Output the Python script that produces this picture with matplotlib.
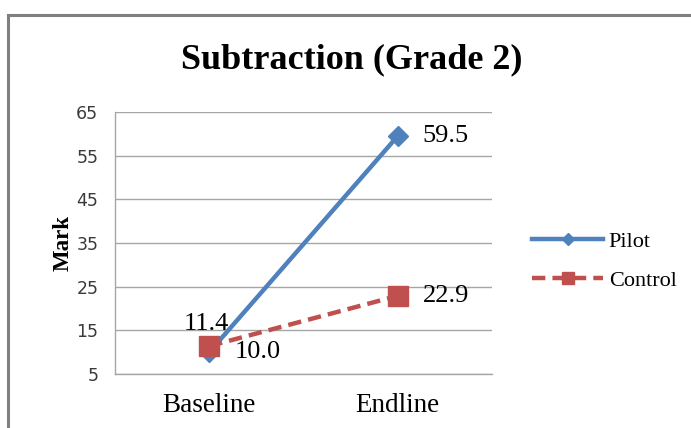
import matplotlib
matplotlib.use("Agg")
import matplotlib.pyplot as plt
from matplotlib.lines import Line2D

categories = ["Baseline", "Endline"]
pilot = [10.0, 59.5]
control = [11.4, 22.9]
yticks = [5, 15, 25, 35, 45, 55, 65]

W, H = 691, 428
fig = plt.figure(figsize=(W / 100, H / 100), dpi=100)
serif = "Liberation Serif"

# outer chart border (left and top visible)
fig.add_artist(Line2D([8 / W, 8 / W], [0, 1 - 15 / H], transform=fig.transFigure,
                      color="#808080", lw=2.2))
fig.add_artist(Line2D([8 / W, 1], [1 - 15 / H, 1 - 15 / H], transform=fig.transFigure,
                      color="#808080", lw=2.2))

left, right, top, bottom = 115, 492, 112, 374
ax = fig.add_axes([left / W, 1 - bottom / H, (right - left) / W, (bottom - top) / H])

x = [0, 1]
blue = "#4F81BD"
red = "#C0504D"
ax.plot(x, pilot, color=blue, lw=3.2, marker="D", ms=10, zorder=3, label="Pilot")
ax.plot(x, control, color=red, lw=3.2, ls=(0, (3, 1.6)), marker="s", ms=15, zorder=4,
        label="Control")

ax.set_xlim(-0.5, 1.5)
ax.set_ylim(5, 65)
ax.set_yticks(yticks)
ax.set_yticklabels([str(v) for v in yticks], fontfamily="DejaVu Sans", fontsize=12.5,
                   color="#3a3a3a")
ax.set_xticks(x)
ax.set_xticklabels(categories, fontfamily=serif, fontsize=19.5)
ax.tick_params(axis="both", length=0)
ax.tick_params(axis="y", pad=12)
ax.tick_params(axis="x", pad=14)
ax.yaxis.grid(True, color="#A6A6A6", lw=1)
ax.set_axisbelow(True)
for s in ["top", "right"]:
    ax.spines[s].set_visible(False)
for s in ["left", "bottom"]:
    ax.spines[s].set_color("#A6A6A6")
    ax.spines[s].set_linewidth(1)

ax.set_ylabel("Mark", fontfamily=serif, fontweight="bold", fontsize=16.5, labelpad=2)

lab_fs = 19
ax.annotate(f"{pilot[1]:.1f}", (x[1], pilot[1]), xytext=(18, 0), textcoords="offset points",
            fontfamily=serif, fontsize=lab_fs, va="center", ha="left")
ax.annotate(f"{pilot[0]:.1f}", (x[0], pilot[0]), xytext=(18, 0), textcoords="offset points",
            fontfamily=serif, fontsize=lab_fs, va="center", ha="left")
ax.annotate(f"{control[1]:.1f}", (x[1], control[1]), xytext=(18, 0), textcoords="offset points",
            fontfamily=serif, fontsize=lab_fs, va="center", ha="left")
ax.annotate(f"{control[0]:.1f}", (x[0], control[0]), xytext=(-2, 16), textcoords="offset points",
            fontfamily=serif, fontsize=lab_fs, va="center", ha="center")

fig.text(352 / W, 1 - 60 / H, "Subtraction (Grade 2)", fontfamily=serif, fontweight="bold",
         fontsize=26, ha="center", va="center")

leg = fig.legend(loc="center left", bbox_to_anchor=(512 / W, 1 - 261 / H),
                 prop={"family": serif, "size": 16}, frameon=False,
                 handlelength=3.2, handletextpad=0.25, labelspacing=0.85, markerscale=0.6)

fig.savefig("out.png", dpi=100)
